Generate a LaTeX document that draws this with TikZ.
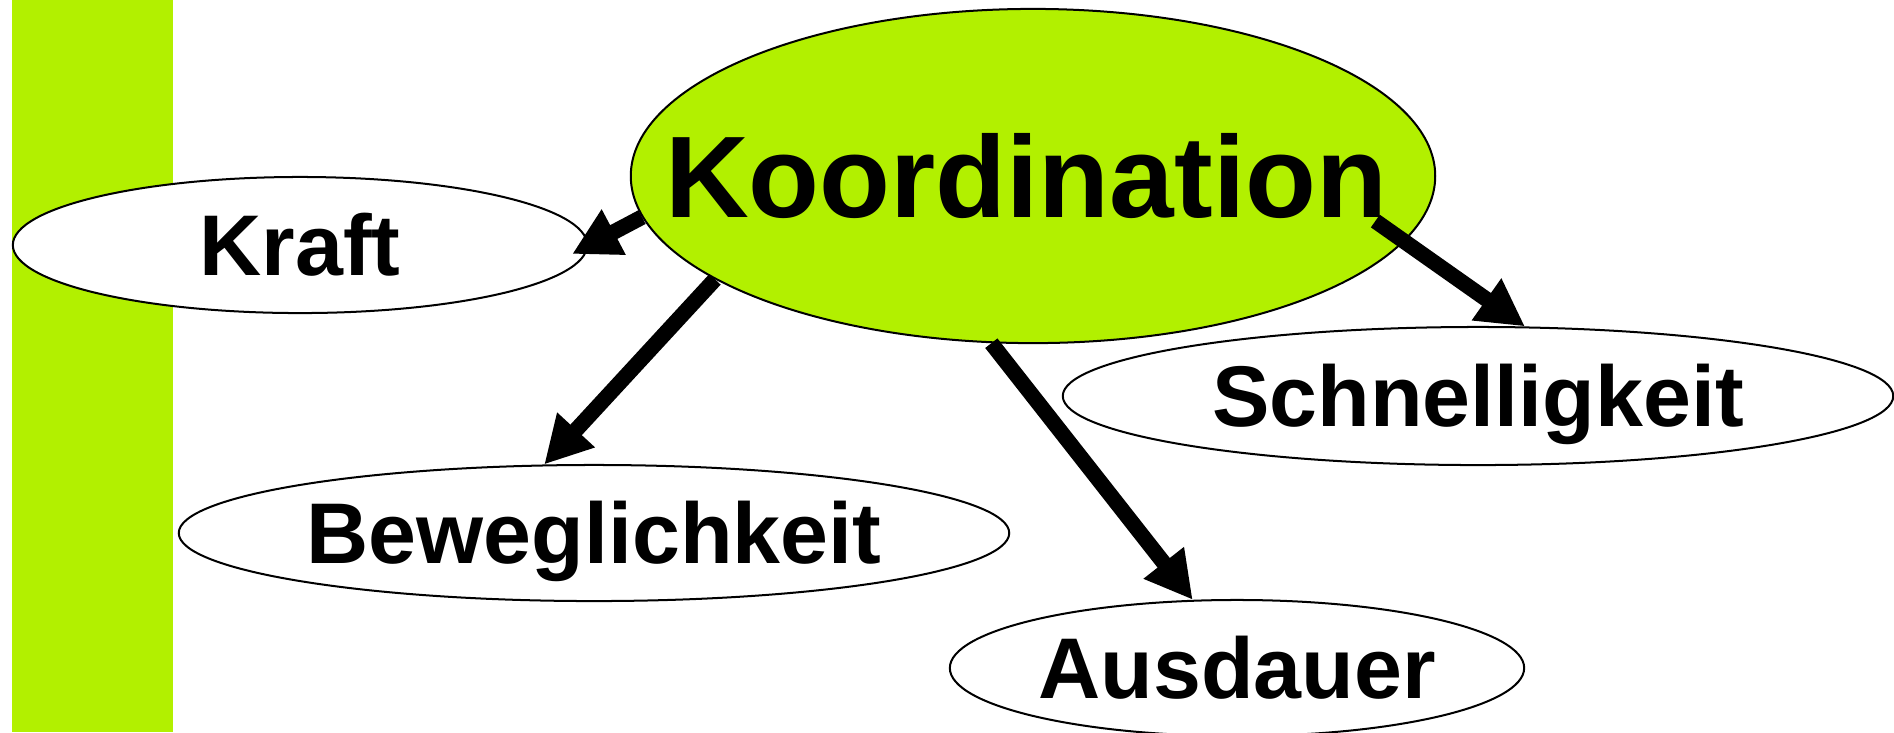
\documentclass[tikz,border=0pt]{standalone}
\usepackage{fontspec}
\setmainfont{Liberation Sans}
\usepackage{tikz}
\usetikzlibrary{shapes,arrows.meta,calc}
\definecolor{limegreen}{RGB}{178,240,0}

\begin{document}
\begin{tikzpicture}[x=0.01cm,y=-0.01cm,
  ell/.style={ellipse,draw=black,line width=0.57pt,inner sep=0pt,font=\bfseries\fontsize{24.5}{29}\selectfont,text height=17.5pt,text depth=0pt},
  arr/.style={color=black,line width=0.155cm,-{Triangle[length=0.47cm,width=0.48cm]}}]
\useasboundingbox (0,0) rectangle (1894,732);
\fill[color=limegreen] (12,0) rectangle (173,732);
\node (K) at (1033,176) [ell,fill=limegreen,minimum width=8.04cm,minimum height=3.34cm,font=\bfseries\fontsize{33}{40}\selectfont,text height=23.6pt] {\makebox[0pt]{Koordination\hspace{0.14cm}}};
\node (Kr) at (300,245) [ell,fill=white,minimum width=5.74cm,minimum height=1.36cm] {Kraft};
\node (S) at (1478,396) [ell,minimum width=8.3cm,minimum height=1.38cm] {Schnelligkeit};
\node (B) at (594,533) [ell,minimum width=8.3cm,minimum height=1.36cm] {Beweglichkeit};
\node (A) at (1237,668) [ell,minimum width=5.74cm,minimum height=1.36cm] {Ausdauer};
\draw[arr] (K.186.65) -- ($(Kr.east)+(-16,9)$);
\draw[arr] (K.198.2) -- (B.126.4);
\draw[arr] (K.256.7) -- (A.123.3);
\draw[arr,shorten <=-0.355cm] (K.-10.29) -- (S.56.7);
\end{tikzpicture}
\end{document}
